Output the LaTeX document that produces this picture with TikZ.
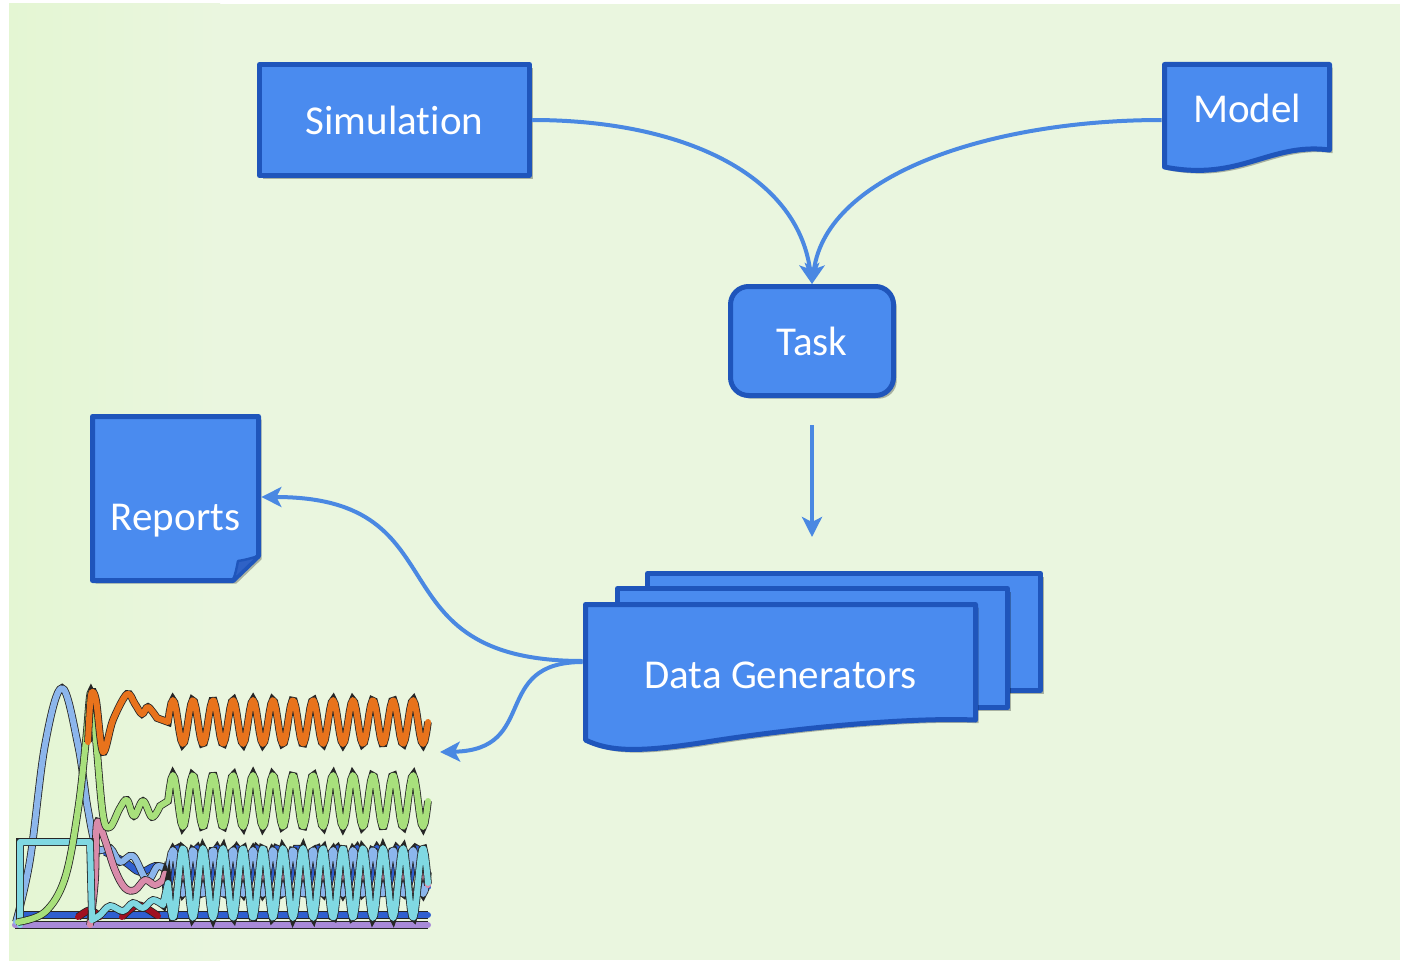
\documentclass[tikz,border=0pt]{standalone}
\usepackage{fontspec}
\setmainfont{Carlito}[Ligatures=NoCommon]
\usetikzlibrary{arrows.meta,shadows,calc}

\definecolor{bg}{HTML}{EAF6DF}
\definecolor{bgleft}{HTML}{E4F6D3}
\definecolor{boxfill}{HTML}{4A8BEF}
\definecolor{boxline}{HTML}{1F55BB}
\definecolor{foldfill}{HTML}{2F62C6}
\definecolor{arrowblue}{HTML}{4A88E2}
\definecolor{worange}{HTML}{E8731C}
\definecolor{wgreen}{HTML}{A8E07C}
\definecolor{wlblue}{HTML}{8CB6EC}
\definecolor{wdblue}{HTML}{2F5FD0}
\definecolor{wpink}{HTML}{D98BAA}
\definecolor{wcyan}{HTML}{80D8E2}
\definecolor{wpurple}{HTML}{A88AD8}
\definecolor{wdred}{HTML}{A01020}

\begin{document}
\begin{tikzpicture}[x=0.5pt,y=-0.5pt,
  boxstyle/.style={fill=boxfill, draw=boxline, line width=2.5pt, line join=round,
    drop shadow={shadow xshift=1.6pt, shadow yshift=-1.6pt, opacity=0.28, fill=black}},
  txt/.style={text=white, font=\fontsize{20.5}{24}\selectfont, inner sep=0pt},
  conn/.style={draw=arrowblue, line width=2pt,
    -{Stealth[length=10pt,width=10pt,inset=2.5pt]}},
  wave/.style={draw=#1, line width=3pt, line join=round, line cap=round,
    preaction={draw=black!85, line width=3.8pt}}]

\useasboundingbox (0,0) rectangle (1401,963);
% background
\fill[white] (0,0) rectangle (1401,963);
\fill[bg] (9,4) rectangle (1400,960);
\fill[left color=bgleft, right color=bg] (9,4) rectangle (220,960);

% Simulation
\node[boxstyle, txt, minimum width=135pt, minimum height=55.5pt] (sim) at (394.5,120) {Simulation};

% Model (document shape)
\path[boxstyle] (1164.5,64.5) -- (1329.5,64.5) -- (1329.5,150)
  .. controls (1270,142) and (1240,182) .. (1164.5,167) -- cycle;
\node[txt, minimum width=85pt] (model) at (1247,108) {Model};

% Task
\node[boxstyle, txt, rounded corners=9pt, minimum width=81.5pt, minimum height=54.5pt] (task) at (812,341) {Task};

% Reports (folded note)
\path[boxstyle] (92.5,416.5) -- (258.5,416.5) -- (258.5,556) -- (233,580.5) -- (92.5,580.5) -- cycle;
\path[fill=foldfill, draw=boxline, line width=1.2pt, line join=round]
  (233,580.5) .. controls (236,572) and (237,566) .. (238,561) .. controls (245,560) and (252,558) .. (258.5,556) -- cycle;
\node[txt, minimum width=85.5pt] (rep) at (175.5,521) {Reports};

% Data Generators (stacked documents)
\path[boxstyle] (647.5,573.5) rectangle (1040.5,690.5);
\path[boxstyle] (617.5,588.5) rectangle (1007.5,707.5);
\path[boxstyle] (585.5,604.5) -- (975.5,604.5) -- (975.5,720)
  .. controls (900,717) and (780,730) .. (700,743)
  .. controls (640,752) and (610,752) .. (585.5,740) -- cycle;
\node[txt, minimum width=197.5pt] (dg) at (780.5,675) {Data Generators};

% plotted time courses
\coordinate (plotin) at (440,752);
\draw[wave=wpurple] (15,925) -- (428,925);
\draw[wave=wdblue] (20,915) -- (428,915);
\draw[wave=wdred] plot[smooth] coordinates {(78,917) (90,910) (100,917)};
\draw[wave=wdred] plot[smooth] coordinates {(122,917) (138,905) (158,916)};
\draw[wave=wdblue] plot[smooth, tension=0.6] coordinates {(105,852) (125,862) (140,872) (155,866) (165,868)}
  -- plot[domain=166:428, samples=160] (\x,{868-20*cos((\x-177)*18)});
\draw[wave=wlblue] plot[smooth, tension=0.6] coordinates {(16,922) (30,860) (45,745) (62,688) (78,745) (88,810) (97,848) (110,848) (120,862) (133,856) (147,880) (158,866) (168,872)}
  -- plot[domain=168:428, samples=160] (\x,{872-22*cos((\x-173)*18)});
\draw[wave=wpink] plot[smooth, tension=0.6] coordinates {(90,925) (95,880) (97,823) (105,840) (115,870) (125,888) (135,890) (145,880) (155,885) (163,880)}
  -- plot[domain=165:428, samples=160] (\x,{885-14*cos((\x-183)*18)});
\draw[wave=wcyan] (20,925) -- (20,842) -- (90,842) -- (92,920)
  plot[smooth, tension=0.6] coordinates {(92,920) (100,915) (110,906) (123,911) (133,903) (143,908) (153,900) (163,905)}
  -- plot[domain=168:428, samples=180] (\x,{883-35*cos((\x-183)*18)});
\draw[wave=wgreen] plot[smooth, tension=0.6] coordinates {(18,922) (45,912) (65,878) (78,810) (86,740) (91,692) (96,740) (103,815) (110,827) (120,808) (127,800) (134,816) (143,801) (152,817) (160,806)}
  -- plot[domain=168:428, samples=160] (\x,{801-26*cos((\x-173)*18)});
\draw[wave=worange] plot[smooth, tension=0.55] coordinates {(88,742) (91,695) (96,700) (103,752) (113,720) (127,694) (135,704) (142,714) (148,707) (157,718)}
  -- plot[domain=168:428, samples=160] (\x,{722-22*cos((\x-173)*18)});

% connectors
\draw[conn] (sim.east) .. controls +(150,0) and +(-15,-110) .. (task.north);
\draw[conn] ($(model.west)+(0,12)$) .. controls +(-170,0) and +(15,-110) .. (task.north);
\draw[conn, shorten <=13.5pt] (task.south) -- ++(0,139);
\draw[conn] ($(dg.west)+(0,-14)$) .. controls +(-215,0) and +(205,0) .. ($(rep.east)+(0,-24)$);
\draw[conn] ($(dg.west)+(0,-13)$) .. controls +(-93,0) and +(100,-2) .. (plotin);
\end{tikzpicture}
\end{document}
